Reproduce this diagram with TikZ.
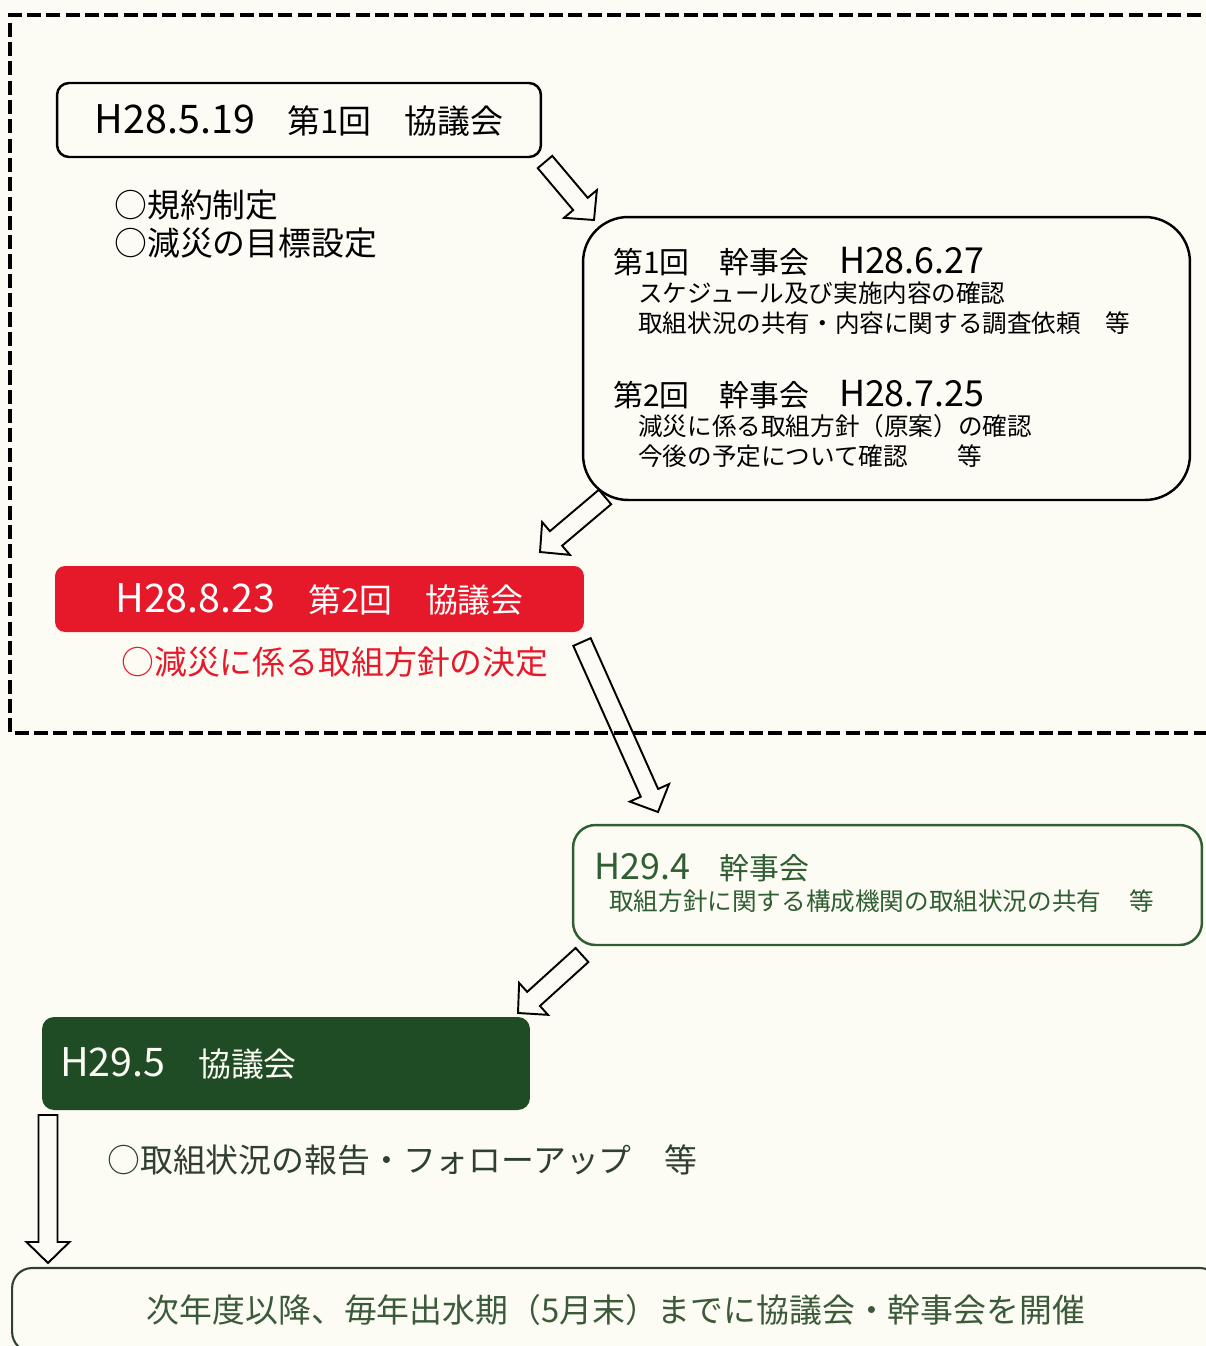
\documentclass[tikz,border=0pt]{standalone}
\usepackage{fontspec}
\usepackage{graphicx}
\setmainfont{Noto Sans CJK JP}
\usetikzlibrary{calc,positioning}
\definecolor{paper}{HTML}{FDFCF4}
\definecolor{kyored}{HTML}{E6192B}
\definecolor{kangreen}{HTML}{2F5E32}
\definecolor{kyogreen}{HTML}{1F4B25}
\definecolor{notegreen}{HTML}{2F3F30}
\definecolor{nextgreen}{HTML}{3A5A3A}
\newcommand{\lat}[1]{\scalebox{1.2}{#1}}
\tikzstyle{plainbox} = [rectangle, rounded corners=0.24cm, draw=black, line width=1.4pt]
\tikzstyle{redbox} = [rectangle, rounded corners=0.2cm, fill=kyored, text=white]
\tikzstyle{greenbox} = [rectangle, rounded corners=0.24cm, fill=kyogreen, text=paper]
\tikzstyle{bigtext} = [inner sep=0pt, font=\fontsize{18.7pt}{21.5pt}\selectfont]
\tikzstyle{midtext} = [inner sep=0pt, font=\fontsize{17pt}{20pt}\selectfont]
\tikzstyle{smalltext} = [inner sep=0pt, align=left, font=\fontsize{14pt}{17pt}\selectfont]
\tikzstyle{hollow} = [draw=black, line width=1.1pt, line join=miter]
\newcommand{\hollowarrow}[2]{
  \path ($(#2)!0.42cm!(#1)$) coordinate (hb);
  \draw [hollow] ($(#1)!0.19cm!90:(#2)$) -- ($(hb)!0.19cm!-90:(#1)$) -- ($(hb)!0.43cm!-90:(#1)$) -- (#2)
    -- ($(hb)!0.43cm!90:(#1)$) -- ($(hb)!0.19cm!90:(#1)$) -- ($(#1)!0.19cm!-90:(#2)$) -- cycle;
}
\begin{document}
\begin{tikzpicture}[x=0.02cm, y=-0.02cm]

\fill [paper] (0,0) rectangle (1206,1346);
\useasboundingbox (0,0) rectangle (1206,1346);

\node (kyo1) [plainbox, bigtext, minimum width=9.68cm, minimum height=1.48cm] at (299,120) {\lat{H28.5.19}　第1回　協議会};
\node (kyo1note) [bigtext, anchor=west, align=left] at (114,224) {○規約制定\\○減災の目標設定};

\node (kan) [plainbox, rounded corners=0.9cm, minimum width=12.14cm, minimum height=5.66cm] at (886.5,358.5) {};
\node (kan1) [midtext, anchor=west] at (613,262) {第1回　幹事会　\lat{H28.6.27}};
\node (kan1note) [smalltext, anchor=west] at (638,308) {スケジュール及び実施内容の確認\\取組状況の共有・内容に関する調査依頼　等};
\node (kan2) [midtext, anchor=west] at (613,395) {第2回　幹事会　\lat{H28.7.25}};
\node (kan2note) [smalltext, anchor=west] at (638,441) {減災に係る取組方針（原案）の確認\\今後の予定について確認　　等};

\node (kyo2) [redbox, bigtext, minimum width=10.58cm, minimum height=1.32cm] at (319.5,599) {\lat{H28.8.23}　第2回　協議会};
\node (kyo2note) [bigtext, text=kyored, anchor=west] at (121,662) {○減災に係る取組方針の決定};

\node (kan3) [plainbox, draw=kangreen, rounded corners=0.45cm, minimum width=12.58cm, minimum height=2.4cm] at (887.5,885) {};
\node (kan3head) [midtext, text=kangreen, anchor=west] at (594,868) {\lat{H29.4}　幹事会};
\node (kan3note) [smalltext, text=kangreen, anchor=west] at (609,901) {取組方針に関する構成機関の取組状況の共有　\,等};

\node (kyo3) [greenbox, bigtext, minimum width=9.76cm, minimum height=1.86cm, text width=9.04cm, align=left, inner xsep=0.36cm] at (286,1063.5) {\lat{H29.5}　協議会};
\node (kyo3note) [bigtext, text=notegreen, anchor=west] at (107,1160) {○取組状況の報告・フォローアップ　等};

\node (next) [plainbox, draw=notegreen, rounded corners=0.4cm, line width=1.2pt, bigtext, text=nextgreen, minimum width=24.16cm, minimum height=1.68cm] at (616,1310) {次年度以降、毎年出水期（5月末）までに協議会・幹事会を開催};

\coordinate (a1s) at (545,162);
\coordinate (a1e) at (594,220);
\coordinate (a2s) at (605,497);
\coordinate (a2e) at (540,552);
\coordinate (a3s) at (582,642);
\coordinate (a3e) at (658,812);
\coordinate (a4s) at (582,955);
\coordinate (a4e) at (518,1013);
\coordinate (a5s) at (48,1115);
\coordinate (a5e) at (48,1263);

\hollowarrow{a1s}{a1e}
\hollowarrow{a2s}{a2e}
\hollowarrow{a3s}{a3e}
\hollowarrow{a4s}{a4e}
\hollowarrow{a5s}{a5e}

\draw [line width=2.4pt, dash pattern=on 8pt off 3pt] (1220,15) -- (10,15) -- (10,733) -- (1220,733);

\end{tikzpicture}
\end{document}
